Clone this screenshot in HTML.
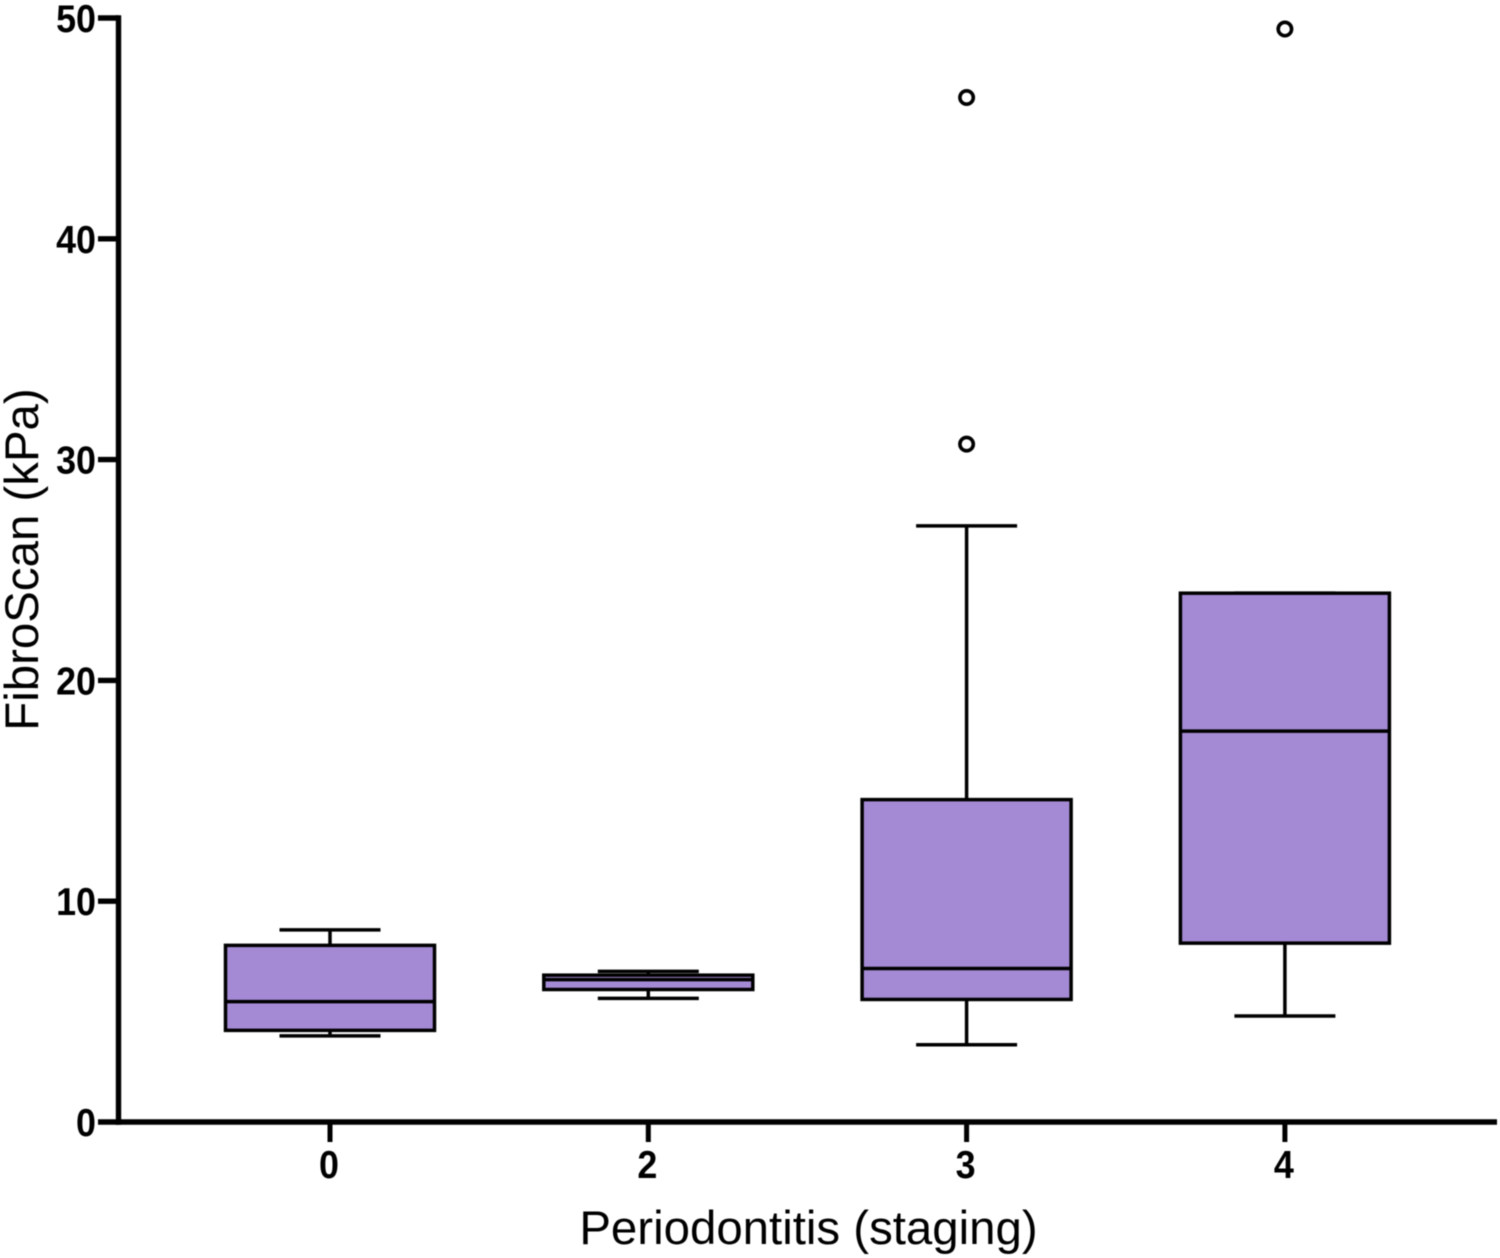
<!DOCTYPE html>
<html lang="en">
<head>
<meta charset="utf-8">
<title>FibroScan by periodontitis staging</title>
<style>
html,body{margin:0;padding:0;background:#fff;}
body{width:1500px;height:1258px;overflow:hidden;}
svg{display:block;filter:blur(0.4px);}
text{font-family:"Liberation Sans",Arial,sans-serif;fill:#000;}
.tick{font-weight:700;font-size:39px;}
.title{font-size:47.4px;}
</style>
</head>
<body>
<svg id="chart" xmlns="http://www.w3.org/2000/svg" width="1500" height="1258" viewBox="0 0 1500 1258"></svg>
<script>
const categories = ['0', '2', '3', '4'];
const whiskerHigh = [8.7, 6.82, 27.0, 23.95];
const upperQuartile = [8.0, 6.65, 14.6, 23.95];
const medians = [5.45, 6.45, 6.95, 17.7];
const lowerQuartile = [4.15, 6.0, 5.55, 8.1];
const whiskerLow = [3.9, 5.6, 3.5, 4.8];
const outliers = [[], [], [46.4, 30.7], [49.5]];
const yTicks = [0, 10, 20, 30, 40, 50];
const xTitle = 'Periodontitis (staging)';
const yTitle = 'FibroScan (kPa)';

const NS = 'http://www.w3.org/2000/svg';
const svg = document.getElementById('chart');
const yScale = v => 1122 - v * 22.08;
const xScale = i => 330 + i * 318.3;
const BOX_HALF = 104.5;
const CAP_HALF = 50.5;
const LINE_W = 3.5;

function make(tag, attrs, parent) {
  const el = document.createElementNS(NS, tag);
  for (const k in attrs) el.setAttribute(k, attrs[k]);
  (parent || svg).appendChild(el);
  return el;
}
function stroke(w) {
  return { stroke: '#000', 'stroke-width': w, fill: 'none' };
}

categories.forEach((cat, i) => {
  const g = make('g', {});
  
  
  const cx = xScale(i);

  const upper = make('line', Object.assign({ x1: cx, x2: cx, y1: yScale(whiskerHigh[i]), y2: yScale(upperQuartile[i]) }, stroke(LINE_W)), g);
  
  

  const lower = make('line', Object.assign({ x1: cx, x2: cx, y1: yScale(lowerQuartile[i]), y2: yScale(whiskerLow[i]) }, stroke(LINE_W)), g);
  
  

  const capHigh = make('line', Object.assign({ x1: cx - CAP_HALF, x2: cx + CAP_HALF, y1: yScale(whiskerHigh[i]), y2: yScale(whiskerHigh[i]) }, stroke(LINE_W)), g);
  
  

  const capLow = make('line', Object.assign({ x1: cx - CAP_HALF, x2: cx + CAP_HALF, y1: yScale(whiskerLow[i]), y2: yScale(whiskerLow[i]) }, stroke(LINE_W)), g);
  
  

  const box = make('rect', {
    x: cx - BOX_HALF,
    y: yScale(upperQuartile[i]),
    width: BOX_HALF * 2,
    height: yScale(lowerQuartile[i]) - yScale(upperQuartile[i]),
    fill: '#a48ad4',
    stroke: '#000',
    'stroke-width': LINE_W
  }, g);
  
  

  const med = make('line', Object.assign({ x1: cx - BOX_HALF, x2: cx + BOX_HALF, y1: yScale(medians[i]), y2: yScale(medians[i]) }, stroke(LINE_W)), g);
  
  

  outliers[i].forEach(v => {
    const c = make('circle', Object.assign({ cx: cx, cy: yScale(v), r: 6.7 }, stroke(3.6)), g);
    
    
  });

  const tick = make('line', Object.assign({ x1: cx, x2: cx, y1: 1122, y2: 1142 }, stroke(5)));
  
  

  const label = make('text', { 'text-anchor': 'middle', class: 'tick', transform: 'translate(' + (cx - 1) + ' 1178) scale(0.92 1)' });
  label.textContent = cat;
  
  
});

yTicks.forEach(v => {
  const tick = make('line', Object.assign({ x1: 98, x2: 118.5, y1: yScale(v), y2: yScale(v) }, stroke(5.4)));
  
  

  const label = make('text', { 'text-anchor': 'end', class: 'tick', transform: 'translate(96 ' + (yScale(v) + 14) + ') scale(0.92 1)' });
  label.textContent = v;
  
  
});

const yAxis = make('line', Object.assign({ x1: 118.5, x2: 118.5, y1: yScale(50) - 2.7, y2: 1124.7 }, stroke(5.4)));



const xAxis = make('line', Object.assign({ x1: 116, x2: 1497, y1: 1122, y2: 1122 }, stroke(5.4)));



const xt = make('text', { x: 808.5, y: 1244, 'text-anchor': 'middle', class: 'title' });
xt.textContent = xTitle;



const yt = make('text', { x: 0, y: 0, 'text-anchor': 'middle', class: 'title', transform: 'translate(38 559.5) rotate(-90)' });
yt.textContent = yTitle;


</script>
</body>
</html>
